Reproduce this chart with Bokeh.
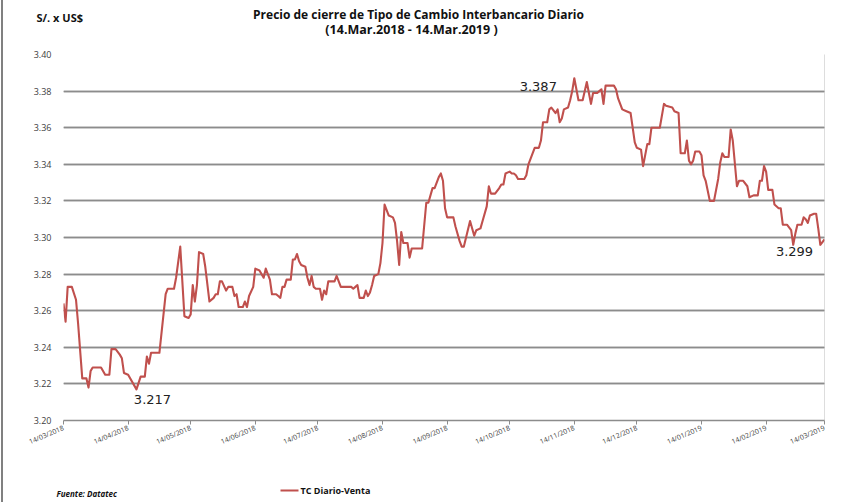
import pandas as pd
from bokeh.plotting import figure
from bokeh.layouts import column
from bokeh.models import (Range1d, FixedTicker, DatetimeTickFormatter, PrintfTickFormatter,
                          Span, Grid, ColumnDataSource, Plot, Label, BoxAnnotation,
                          InlineStyleSheet)
from bokeh.core.properties import value
from bokeh.embed import file_html
from bokeh.resources import INLINE

# ---------------- data ----------------
dates = [
    "2018-03-14", "2018-03-15", "2018-03-16", "2018-03-18", "2018-03-20", "2018-03-21",
    "2018-03-23", "2018-03-25", "2018-03-26", "2018-03-27", "2018-03-28", "2018-04-01",
    "2018-04-03", "2018-04-05", "2018-04-06", "2018-04-08", "2018-04-10", "2018-04-11",
    "2018-04-12", "2018-04-14", "2018-04-18", "2018-04-20", "2018-04-22", "2018-04-23",
    "2018-04-24", "2018-04-25", "2018-04-29", "2018-05-02", "2018-05-03", "2018-05-06",
    "2018-05-07", "2018-05-09", "2018-05-11", "2018-05-13", "2018-05-14", "2018-05-15",
    "2018-05-16", "2018-05-17", "2018-05-18", "2018-05-20", "2018-05-21", "2018-05-23",
    "2018-05-25", "2018-05-26", "2018-05-27", "2018-05-28", "2018-05-29", "2018-05-31",
    "2018-06-01", "2018-06-03", "2018-06-04", "2018-06-05", "2018-06-06", "2018-06-08",
    "2018-06-09", "2018-06-10", "2018-06-11", "2018-06-13", "2018-06-14", "2018-06-16",
    "2018-06-18", "2018-06-19", "2018-06-21", "2018-06-22", "2018-06-24", "2018-06-25",
    "2018-06-26", "2018-06-27", "2018-06-28", "2018-06-29", "2018-07-01", "2018-07-02",
    "2018-07-03", "2018-07-04", "2018-07-05", "2018-07-06", "2018-07-08", "2018-07-09",
    "2018-07-10", "2018-07-11", "2018-07-12", "2018-07-13", "2018-07-15", "2018-07-16",
    "2018-07-17", "2018-07-18", "2018-07-19", "2018-07-21", "2018-07-22", "2018-07-23",
    "2018-07-25", "2018-07-27", "2018-07-30", "2018-07-31", "2018-08-01", "2018-08-02",
    "2018-08-03", "2018-08-05", "2018-08-06", "2018-08-07", "2018-08-08", "2018-08-09",
    "2018-08-10", "2018-08-12", "2018-08-13", "2018-08-14", "2018-08-15", "2018-08-16",
    "2018-08-17", "2018-08-19", "2018-08-20", "2018-08-21", "2018-08-22", "2018-08-23",
    "2018-08-24", "2018-08-26", "2018-08-27", "2018-08-28", "2018-09-02", "2018-09-04",
    "2018-09-05", "2018-09-07", "2018-09-08", "2018-09-10", "2018-09-11", "2018-09-12",
    "2018-09-13", "2018-09-14", "2018-09-17", "2018-09-18", "2018-09-20", "2018-09-21",
    "2018-09-22", "2018-09-25", "2018-09-27", "2018-09-28", "2018-09-30", "2018-10-01",
    "2018-10-03", "2018-10-04", "2018-10-05", "2018-10-07", "2018-10-09", "2018-10-10",
    "2018-10-11", "2018-10-12", "2018-10-14", "2018-10-15", "2018-10-16", "2018-10-17",
    "2018-10-18", "2018-10-21", "2018-10-22", "2018-10-23", "2018-10-24", "2018-10-26",
    "2018-10-28", "2018-10-29", "2018-10-30", "2018-11-01", "2018-11-02", "2018-11-03",
    "2018-11-05", "2018-11-06", "2018-11-07", "2018-11-08", "2018-11-09", "2018-11-11",
    "2018-11-12", "2018-11-13", "2018-11-14", "2018-11-15", "2018-11-16", "2018-11-18",
    "2018-11-20", "2018-11-21", "2018-11-22", "2018-11-23", "2018-11-25", "2018-11-26",
    "2018-11-27", "2018-11-28", "2018-11-29", "2018-12-01", "2018-12-03", "2018-12-04",
    "2018-12-05", "2018-12-07", "2018-12-09", "2018-12-11", "2018-12-12", "2018-12-13",
    "2018-12-14", "2018-12-16", "2018-12-17", "2018-12-19", "2018-12-20", "2018-12-21",
    "2018-12-25", "2018-12-27", "2018-12-28", "2018-12-31", "2019-01-01", "2019-01-03",
    "2019-01-04", "2019-01-06", "2019-01-07", "2019-01-08", "2019-01-09", "2019-01-10",
    "2019-01-11", "2019-01-13", "2019-01-14", "2019-01-15", "2019-01-16", "2019-01-18",
    "2019-01-20", "2019-01-22", "2019-01-23", "2019-01-24", "2019-01-25", "2019-01-27",
    "2019-01-28", "2019-01-29", "2019-01-31", "2019-02-01", "2019-02-03", "2019-02-05",
    "2019-02-06", "2019-02-08", "2019-02-10", "2019-02-11", "2019-02-12", "2019-02-13",
    "2019-02-14", "2019-02-15", "2019-02-17", "2019-02-18", "2019-02-20", "2019-02-21",
    "2019-02-22", "2019-02-24", "2019-02-26", "2019-02-27", "2019-02-28", "2019-03-01",
    "2019-03-03", "2019-03-04", "2019-03-05", "2019-03-06", "2019-03-07", "2019-03-09",
    "2019-03-10", "2019-03-11", "2019-03-12", "2019-03-14",
]
values = [
    3.264, 3.254, 3.273, 3.273, 3.266, 3.253,
    3.223, 3.223, 3.218, 3.227, 3.229, 3.229,
    3.225, 3.225, 3.239, 3.239, 3.236, 3.234,
    3.226, 3.225, 3.217, 3.224, 3.224, 3.235,
    3.231, 3.237, 3.237, 3.269, 3.272, 3.272,
    3.278, 3.295, 3.257, 3.256, 3.258, 3.274,
    3.265, 3.274, 3.292, 3.291, 3.284, 3.265,
    3.267, 3.269, 3.269, 3.276, 3.276, 3.271,
    3.273, 3.273, 3.268, 3.269, 3.262, 3.262,
    3.265, 3.262, 3.268, 3.273, 3.283, 3.282,
    3.278, 3.283, 3.277, 3.269, 3.269, 3.268,
    3.267, 3.273, 3.273, 3.277, 3.277, 3.288,
    3.288, 3.291, 3.287, 3.285, 3.284, 3.278,
    3.274, 3.279, 3.273, 3.272, 3.272, 3.266,
    3.271, 3.269, 3.276, 3.276, 3.276, 3.279,
    3.273, 3.273, 3.273, 3.272, 3.273, 3.274,
    3.267, 3.267, 3.271, 3.268, 3.270, 3.274,
    3.279, 3.280, 3.286, 3.297, 3.318, 3.315,
    3.312, 3.311, 3.308, 3.298, 3.285, 3.303,
    3.297, 3.297, 3.289, 3.294, 3.294, 3.319,
    3.319, 3.327, 3.327, 3.333, 3.335, 3.331,
    3.316, 3.311, 3.311, 3.306, 3.298, 3.295,
    3.295, 3.309, 3.301, 3.304, 3.305, 3.309,
    3.317, 3.328, 3.324, 3.324, 3.327, 3.329,
    3.329, 3.335, 3.336, 3.335, 3.335, 3.334,
    3.332, 3.332, 3.334, 3.340, 3.343, 3.349,
    3.349, 3.353, 3.363, 3.363, 3.370, 3.371,
    3.368, 3.370, 3.363, 3.365, 3.370, 3.371,
    3.375, 3.380, 3.387, 3.381, 3.375, 3.375,
    3.385, 3.379, 3.373, 3.379, 3.379, 3.380,
    3.381, 3.373, 3.383, 3.383, 3.383, 3.381,
    3.376, 3.370, 3.369, 3.368, 3.360, 3.352,
    3.349, 3.348, 3.339, 3.351, 3.351, 3.360,
    3.360, 3.373, 3.372, 3.371, 3.369, 3.368,
    3.346, 3.346, 3.353, 3.342, 3.340, 3.342,
    3.347, 3.347, 3.345, 3.334, 3.331, 3.320,
    3.320, 3.332, 3.341, 3.346, 3.344, 3.344,
    3.359, 3.353, 3.328, 3.331, 3.331, 3.328,
    3.322, 3.323, 3.323, 3.331, 3.331, 3.339,
    3.336, 3.326, 3.326, 3.318, 3.316, 3.316,
    3.307, 3.307, 3.304, 3.296, 3.302, 3.307,
    3.307, 3.311, 3.310, 3.308, 3.312, 3.313,
    3.313, 3.305, 3.296, 3.299,
]
x_tick_dates = ["2018-03-14", "2018-04-14", "2018-05-14", "2018-06-14", "2018-07-14",
                "2018-08-14", "2018-09-14", "2018-10-14", "2018-11-14", "2018-12-14",
                "2019-01-14", "2019-02-14", "2019-03-14"]
y_ticks = [3.20, 3.22, 3.24, 3.26, 3.28, 3.30, 3.32, 3.34, 3.36, 3.38, 3.40]
ann_dates = ["2018-04-18", "2018-11-14", "2019-03-14"]
ann_values = [3.217, 3.387, 3.299]
ann_labels = ["3.217", "3.387", "3.299"]
title_line1 = "Precio de cierre de Tipo de Cambio Interbancario Diario"
title_line2 = "(14.Mar.2018 - 14.Mar.2019 )"
y_unit_text = "S/. x US$"
source_text = "Fuente: Datatec"
series_name = "TC Diario-Venta"

# ---------------- styles ----------------
W = 856
TOP_H, MAIN_H, BOT_H = 40, 430, 32
LINE_COLOR = "#C0504D"
GRID_COLOR = "#8c8c8c"
TEXT_COLOR = "#111111"
FONT = "Open Sans"
ann_x_offsets = [16, -36, -30]
ann_y_offsets = [10, 8, 12]


def bare(height):
    """A plain plot with no axes or grids; texts are placed in canvas pixels."""
    f = Plot(width=W, height=height, output_backend="svg", toolbar_location=None,
             x_range=Range1d(0, W), y_range=Range1d(0, height), frame_align=False,
             min_border=0, min_border_left=0, min_border_right=0,
             min_border_top=0, min_border_bottom=0)
    f.outline_line_color = None
    f.border_fill_color = "white"
    f.background_fill_color = "white"
    return f


def note(fig, x, y, text, size, style="bold", align="left"):
    fig.add_layout(Label(x=x, y=y, x_units="canvas", y_units="canvas", text=text,
                         text_align=align, text_baseline="middle", text_font=FONT,
                         text_font_style=style, text_font_size=size,
                         text_color=TEXT_COLOR))


# ---------------- header ----------------
top = bare(TOP_H)
note(top, 418, 14, title_line1, "12px", align="center")
note(top, 411, 29, title_line2, "12.5px", align="center")
note(top, 36, 17, y_unit_text, "11px")

# ---------------- main chart ----------------
xd = pd.to_datetime(dates)
x_ticks_ms = [pd.Timestamp(d).value / 1e6 for d in x_tick_dates]

p = figure(width=W, height=MAIN_H, x_axis_type="datetime", output_backend="svg",
           toolbar_location=None, frame_align=False,
           x_range=Range1d(xd[0], xd[-1]), y_range=Range1d(y_ticks[0], y_ticks[-1]),
           min_border_left=63, min_border_right=32, min_border_top=54 - TOP_H,
           min_border_bottom=TOP_H + MAIN_H - 420)
p.outline_line_color = None
p.background_fill_color = "white"
p.border_fill_color = "white"

glow = Grid(dimension=1, ticker=FixedTicker(ticks=y_ticks), grid_line_color="#eef1f8",
            grid_line_width=7, level="image")
p.add_layout(glow)

p.xgrid.visible = False
p.ygrid.ticker = FixedTicker(ticks=y_ticks)
p.ygrid.grid_line_color = GRID_COLOR
p.ygrid.grid_line_width = 1.4

p.yaxis.ticker = FixedTicker(ticks=y_ticks)
p.yaxis.formatter = PrintfTickFormatter(format="%.2f")
p.yaxis.axis_line_color = None
p.yaxis.major_tick_line_color = None
p.yaxis.minor_tick_line_color = None
p.yaxis.major_label_standoff = 6
p.yaxis.major_label_text_font = FONT
p.yaxis.major_label_text_font_size = "9px"
p.yaxis.major_label_text_color = "#404040"

p.xaxis.ticker = FixedTicker(ticks=x_ticks_ms)
p.xaxis.formatter = DatetimeTickFormatter(days="%d/%m/%Y", months="%d/%m/%Y",
                                          years="%d/%m/%Y", hours="%d/%m/%Y")
p.xaxis.axis_line_color = GRID_COLOR
p.xaxis.axis_line_width = 1.4
p.xaxis.major_tick_line_color = GRID_COLOR
p.xaxis.major_tick_in = 0
p.xaxis.major_tick_out = 4
p.xaxis.minor_tick_line_color = None
p.xaxis.major_label_orientation = 0.4
p.xaxis.major_label_standoff = 3
p.xaxis.major_label_text_font = FONT
p.xaxis.major_label_text_font_size = "7px"
p.xaxis.major_label_text_color = "#404040"

p.add_layout(Span(location=xd[-1], dimension="height", line_color="#777777",
                  line_dash="1 1", line_width=1))

src = ColumnDataSource(dict(x=xd, y=values))
p.line("x", "y", source=src, line_color=LINE_COLOR, line_width=2.1, line_join="round")

ann = ColumnDataSource(dict(x=pd.to_datetime(ann_dates), y=ann_values, text=ann_labels,
                            dx=ann_x_offsets, dy=ann_y_offsets))
p.text("x", "y", text="text", x_offset="dx", y_offset="dy", source=ann,
       text_align="center", text_baseline="middle", text_font=value("DejaVu Sans"),
       text_font_size="13px", text_color="#222222")

# ---------------- footer ----------------
bot = bare(BOT_H)
note(bot, 56, 23, source_text, "8px", style="bold italic")
note(bot, 300, 20, series_name, "9px")
# legend key drawn in the series' colour
bot.add_layout(BoxAnnotation(left=280, right=298, top=19, bottom=21,
                             left_units="canvas", right_units="canvas",
                             top_units="canvas", bottom_units="canvas",
                             fill_color=LINE_COLOR, fill_alpha=1, line_color=None))

# thin grey frame edge at the left of the whole chart box
edge = InlineStyleSheet(css=":host { position: relative; } "
                            ":host::after { content: ''; position: absolute; left: 1px; "
                            "top: 0; bottom: 0; width: 2px; background: #808080; "
                            "pointer-events: none; }")
layout = column(top, p, bot, spacing=0, stylesheets=[edge])
open("out.html", "w").write(file_html(layout, INLINE))
